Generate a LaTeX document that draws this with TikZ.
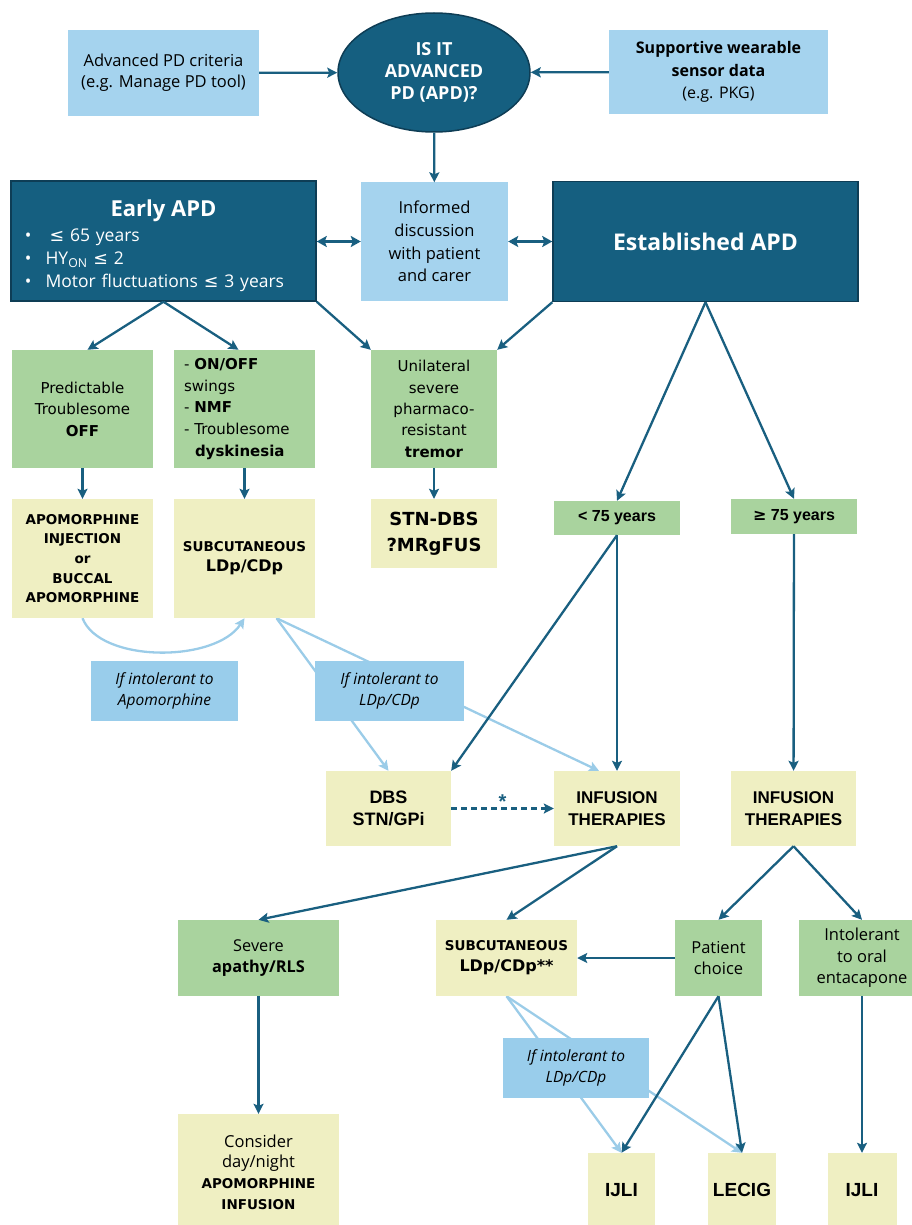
\documentclass[tikz,border=0pt]{standalone}
\usepackage{fontspec}
\setmainfont{Open Sans}
\newfontfamily\verdf{DejaVu Sans}
\newfontfamily\arialf{Liberation Sans}
\usepackage{tikz}
\usetikzlibrary{arrows.meta,shapes.geometric,backgrounds}
\definecolor{apdnavy}{HTML}{155F80}
\definecolor{apdrim}{HTML}{0E3D55}
\definecolor{arrowblue}{HTML}{195F80}
\definecolor{skyblue}{HTML}{A5D3EE}
\definecolor{noteblue}{HTML}{99CDEB}
\definecolor{softblue}{HTML}{9BCCE8}
\definecolor{leafgreen}{HTML}{A9D39E}
\definecolor{paleyellow}{HTML}{EFEFC2}
\newcommand{\fs}[2]{\fontsize{#1}{#2}\selectfont}
\newcommand{\lesign}{{\verdf ≤}}
\newcommand{\gesign}{{\verdf ≥}}

\begin{document}
\begin{tikzpicture}[x=1pt,y=-1pt]
        \tikzset{box/.style = {shape=rectangle, inner sep=0pt, align=center}}
        \tikzset{lightbox/.style = {box, fill=skyblue}}
        \tikzset{notebox/.style = {box, fill=noteblue, minimum width=147pt,
                minimum height=60pt, font=\itshape\fs{15.5}{21}}}
        \tikzset{darkbox/.style = {box, fill=apdnavy, draw=apdrim, line width=1.5pt, text=white}}
        \tikzset{greenbox/.style = {box, fill=leafgreen}}
        \tikzset{yellowbox/.style = {box, fill=paleyellow}}
        \tikzset{edge/.style = {draw=arrowblue, line width=2.3pt,
                -{Stealth[length=10pt,width=10pt,inset=2pt]}}}
        \tikzset{twoway/.style = {draw=arrowblue, line width=2.8pt,
                {Stealth[length=10pt,width=11pt,inset=2pt]}-{Stealth[length=10pt,width=11pt,inset=2pt]}}}
        \tikzset{soft/.style = {draw=softblue, line width=2.3pt,
                -{Stealth[length=10pt,width=10pt,inset=2pt]}}}

        \useasboundingbox (0,0) rectangle (912,1225);
        \clip (0,0) rectangle (912,1225);

        \node[lightbox, minimum width=191pt, minimum height=86pt, font=\fs{16.5}{21}] (crit) at (163.5,73)
            {Advanced PD criteria\\(e.g. Manage PD tool)};
        \node[darkbox, shape=ellipse, minimum width=192pt, minimum height=119pt,
            font=\bfseries\fs{18}{22}] (apdq) at (434,72.5) {IS IT\\ADVANCED\\PD (APD)?};
        \node[lightbox, minimum width=219pt, minimum height=84pt, font=\fs{16}{22.5}] (sensor) at (718.5,72)
            {\textbf{Supportive wearable}\\\textbf{sensor data}\\(e.g. PKG)};

        \node[darkbox, minimum width=305pt, minimum height=120pt, text width=295pt, align=left,
            font=\fs{17.5}{23}] (early) at (163.5,241)
            {\vskip3pt\centerline{\bfseries\fs{22}{22}Early APD}\vskip2pt
             \hspace*{9pt}\textbullet\hspace{18pt}\lesign{} 65 years\\
             \hspace*{9pt}\textbullet\hspace{14pt}HY\textsubscript{ON} \lesign{} 2\\
             \hspace*{9pt}\textbullet\hspace{14pt}Motor fluctuations \lesign{} 3 years};
        \node[lightbox, minimum width=147pt, minimum height=118pt, font=\fs{16.5}{22.7}] (informed) at (434.5,241.5)
            {Informed\\discussion\\with patient\\and carer};
        \node[darkbox, minimum width=305pt, minimum height=120pt, font=\bfseries\fs{23}{28}] (established) at (705.5,241.5)
            {Established APD};

        \node[greenbox, minimum width=141pt, minimum height=118pt, font=\verdf\fs{15}{21.5}] (pred) at (82.5,409)
            {Predictable\\Troublesome\\\textbf{OFF}};
        \node[greenbox, minimum width=141pt, minimum height=118pt, text width=121pt, align=left,
            font=\verdf\fs{15}{21.7}] (onoff) at (244.5,409)
            {- \textbf{ON/OFF}\\swings\\- \textbf{NMF}\\- Troublesome\\\hspace*{11pt}\textbf{dyskinesia}};
        \node[greenbox, minimum width=126pt, minimum height=118pt, font=\verdf\fs{15}{21.3}] (uni) at (434,409)
            {Unilateral\\severe\\pharmaco-\\resistant\\\textbf{tremor}};

        \node[yellowbox, minimum width=141pt, minimum height=119pt, font=\verdf\bfseries\fs{13.5}{19.7}] (apo) at (82.5,558.5)
            {APOMORPHINE\\INJECTION\\or\\BUCCAL\\APOMORPHINE};
        \node[yellowbox, minimum width=141pt, minimum height=119pt, font=\verdf\bfseries\fs{13.5}{20}] (sub1) at (244.5,558.5)
            {SUBCUTANEOUS\\\fs{16}{20}LDp/CDp};
        \node[yellowbox, minimum width=126pt, minimum height=69pt, font=\verdf\bfseries\fs{18}{26}] (stn) at (434,533.5)
            {STN-DBS\\?MRgFUS};
        \node[greenbox, minimum width=126pt, minimum height=34pt, font=\arialf\bfseries\fs{16}{18}] (lt75) at (617,518)
            {< 75 years};
        \node[greenbox, minimum width=126pt, minimum height=35pt, font=\arialf\bfseries\fs{16}{18}] (ge75) at (794,516.5)
            {\gesign{} 75 years};

        \node[notebox] (noteapo) at (164.5,691) {If intolerant to\\Apomorphine};
        \node[notebox, minimum width=149pt] (noteldp) at (389.5,691) {If intolerant to\\LDp/CDp};

        \node[yellowbox, minimum width=125pt, minimum height=75pt, font=\arialf\bfseries\fs{18}{22}] (dbs) at (388.5,808.5)
            {DBS\\STN/GPi};
        \node[yellowbox, minimum width=126pt, minimum height=75pt, font=\arialf\bfseries\fs{17}{22}] (inf1) at (617,808.5)
            {INFUSION\\THERAPIES};
        \node[yellowbox, minimum width=125pt, minimum height=75pt, font=\arialf\bfseries\fs{17}{22}] (inf2) at (793.5,808.5)
            {INFUSION\\THERAPIES};

        \node[greenbox, minimum width=161pt, minimum height=76pt, font=\fs{16.3}{21}] (severe) at (258.5,958)
            {Severe\\\textbf{apathy/RLS}};
        \node[yellowbox, minimum width=141pt, minimum height=76pt, font=\verdf\bfseries\fs{13.5}{21}] (sub2) at (506.5,958)
            {SUBCUTANEOUS\\\fs{16}{21}LDp/CDp**};
        \node[greenbox, minimum width=87pt, minimum height=76pt, font=\fs{16.5}{21}] (patient) at (718.5,958)
            {Patient\\choice};
        \node[greenbox, minimum width=126pt, minimum height=76pt, font=\fs{16.5}{21.5}] (intol) at (862,958)
            {Intolerant\\to oral\\entacapone};

        \node[notebox, minimum width=146pt] (noteldp2) at (576,1068) {If intolerant to\\LDp/CDp};

        \node[yellowbox, minimum width=161pt, minimum height=116pt, font=\fs{16.5}{20.7}] (consider) at (258.5,1172)
            {Consider\\day/night\\{\verdf\bfseries\fs{13.5}{20.7}APOMORPHINE}\\{\verdf\bfseries\fs{13.5}{20.7}INFUSION}};
        \node[yellowbox, minimum width=67pt, minimum height=74pt, font=\arialf\bfseries\fs{19}{22}] (ijli1) at (621.5,1190) {IJLI};
        \node[yellowbox, minimum width=68pt, minimum height=74pt, font=\arialf\bfseries\fs{19}{22}] (lecig) at (742,1190) {LECIG};
        \node[yellowbox, minimum width=69pt, minimum height=74pt, font=\arialf\bfseries\fs{19}{22}] (ijli2) at (862,1190) {IJLI};

        \draw[edge] (crit) to (apdq);
        \draw[edge] (sensor) to (apdq);
        \draw[edge] (apdq) to (informed);
        \draw[twoway] (early.east |- informed) to (informed);
        \draw[twoway] (informed) to (established);

        \draw[edge] (early.south) to ([xshift=5pt]pred.north);
        \draw[edge] (early.south) to ([xshift=-6pt]onoff.north);
        \draw[edge] (early.south east) to (uni.north west);
        \draw[edge] (established.south west) to (uni.north east);
        \draw[edge] (established.south) to (lt75.north);
        \draw[edge] (established.south) to (ge75.north);

        \draw[edge] (pred) to (apo);
        \draw[edge] (onoff) to (sub1);
        \draw[edge] (uni) to (stn);

        \draw[edge] (lt75.south) to (dbs.north east);
        \draw[edge] (lt75) to (inf1);
        \draw[edge] (ge75) to (inf2);
        \draw[edge, dash pattern=on 6pt off 4pt] (dbs) to node[midway, yshift=7pt, text=arrowblue,
            font=\arialf\bfseries\fs{20}{20}] (star) {*} (inf1);

        \draw[edge] (inf1.south) to (severe.north);
        \draw[edge] (inf1.south) to (sub2.north);
        \draw[edge] (inf2.south) to (patient.north);
        \draw[edge] (inf2.south) to (intol.north);
        \draw[edge] (patient) to (sub2);
        \draw[edge] (patient.south) to (ijli1.north);
        \draw[edge] (patient.south) to (lecig.north);
        \draw[edge] (intol) to (ijli2);
        \draw[edge] (severe) to (consider);

        \begin{pgfonlayer}{background}
        \draw[soft] (apo.south) .. controls (100,663) and (215,663) .. (sub1.south);
        \draw[soft] ([xshift=32pt]sub1.south) to (dbs.north);
        \draw[soft] ([xshift=32pt]sub1.south) to ([xshift=-18pt]inf1.north);
        \draw[soft] (sub2.south) to (ijli1.north);
        \draw[soft] (sub2.south) to (lecig.north);
        \end{pgfonlayer}
\end{tikzpicture}
\end{document}
